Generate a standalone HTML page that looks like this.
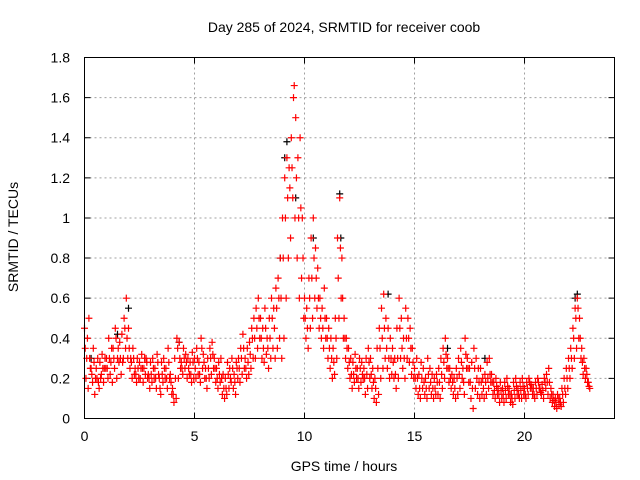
<!DOCTYPE html>
<html><head><meta charset="utf-8"><style>
html,body{margin:0;padding:0;background:#fff;}
svg{display:block;font-family:"Liberation Sans",sans-serif;}
</style></head><body>
<svg id="chart" width="640" height="480" xmlns="http://www.w3.org/2000/svg">
<rect width="640" height="480" fill="#fff"/>
<g id="grid"></g>
<g id="axes"></g>
<g id="marks"></g>
<rect x="84.5" y="57.5" width="530" height="361" fill="none" stroke="#000" stroke-width="1"/>
<text x="344" y="32" text-anchor="middle" font-size="14">Day 285 of 2024, SRMTID for receiver coob</text>
<text x="344" y="471" text-anchor="middle" font-size="14">GPS time / hours</text>
<text x="18" y="237" text-anchor="middle" font-size="14" transform="rotate(-90 18 237)">SRMTID / TECUs</text>
</svg>
<script>
const xTicks=[0,5,10,15,20];
const yTicks=[0,0.2,0.4,0.6,0.8,1,1.2,1.4,1.6,1.8];
const yTickLabels=["0","0.2","0.4","0.6","0.8","1","1.2","1.4","1.6","1.8"];
const seriesA=[.45,.3,.5,.25,.35,.2,.3,.28,.32,.25,
.3,.4,.28,.35,.45,.3,.38,.42,.5,.6,
.45,.3,.35,.25,.3,.28,.32,.25,.3,.22,
.28,.3,.25,.32,.2,.28,.3,.25,.35,.22,
.15,.3,.4,.38,.28,.35,.32,.3,.28,.33,
.3,.35,.28,.4,.32,.25,.3,.35,.38,.3,
.25,.28,.3,.22,.2,.28,.25,.3,.22,.28,
.3,.35,.42,.3,.35,.38,.45,.5,.55,.6,
.5,.45,.55,.4,.5,.6,.55,.65,.7,.8,
1.0,1.2,1.3,1.25,1.4,1.6,1.5,1.3,1.4,1.0,
.6,.55,.7,.9,1.0,.85,.75,.6,.55,.65,
.5,.45,.4,.35,.5,.9,1.1,.8,.5,.4,
.35,.3,.28,.32,.25,.3,.28,.25,.3,.35,
.3,.25,.2,.35,.45,.55,.62,.5,.45,.4,
.35,.3,.45,.6,.5,.4,.55,.5,.45,.35,
.25,.3,.22,.28,.25,.2,.3,.25,.22,.2,
.22,.25,.3,.35,.4,.3,.25,.22,.2,.25,
.3,.35,.25,.4,.3,.25,.28,.35,.3,.25,
.25,.2,.22,.28,.3,.22,.18,.2,.15,.18,
.15,.18,.2,.15,.12,.18,.2,.15,.18,.2,
.15,.18,.2,.17,.15,.18,.2,.15,.17,.2,
.22,.25,.15,.12,.1,.12,.1,.15,.2,.25,
.3,.35,.45,.55,.6,.5,.35,.3,.25,.18];
const seriesB=[.2,.15,.25,.18,.12,.2,.15,.22,.18,.25,
.2,.22,.18,.25,.2,.28,.22,.3,.35,.3,
.25,.2,.22,.18,.2,.25,.18,.22,.2,.15,
.18,.2,.15,.22,.12,.18,.2,.15,.2,.12,
.08,.1,.2,.25,.22,.25,.2,.22,.18,.2,
.2,.22,.18,.25,.2,.15,.2,.22,.25,.18,
.15,.18,.12,.1,.12,.15,.18,.15,.12,.2,
.18,.22,.25,.2,.22,.25,.3,.3,.35,.4,
.3,.28,.32,.25,.3,.35,.3,.35,.4,.3,
.4,.6,.8,.9,1.1,1.0,.8,.6,.7,.5,
.4,.35,.45,.5,.6,.55,.45,.4,.35,.4,
.3,.25,.2,.22,.3,.5,.6,.4,.3,.25,
.2,.15,.18,.2,.15,.18,.2,.12,.15,.2,
.15,.1,.08,.12,.2,.25,.3,.25,.2,.22,
.2,.15,.2,.3,.25,.2,.3,.28,.22,.2,
.15,.12,.1,.15,.12,.1,.15,.12,.1,.12,
.12,.1,.15,.2,.25,.18,.15,.12,.1,.12,
.15,.2,.12,.25,.18,.1,.05,.15,.12,.1,
.12,.1,.12,.15,.18,.12,.1,.12,.08,.1,
.08,.1,.12,.08,.07,.1,.12,.1,.1,.12,
.1,.12,.15,.12,.1,.12,.15,.12,.1,.15,
.12,.1,.08,.06,.05,.07,.06,.08,.12,.15,
.2,.25,.3,.35,.4,.3,.22,.2,.18,.15];
const seriesC=[.35,.4,.3,.22,.28,.25,.18,.2,.25,.3,
.25,.3,.35,.3,.4,.35,.3,.28,.45,.4,
.35,.28,.3,.22,.25,.2,.25,.3,.28,.2,
.22,.25,.2,.28,.15,.22,.25,.2,.28,.18,
.12,.2,.35,.3,.25,.3,.28,.25,.22,.28,
.25,.3,.22,.35,.28,.2,.25,.3,.32,.25,
.2,.22,.2,.15,.15,.22,.2,.25,.18,.25,
.25,.3,.35,.25,.28,.32,.4,.4,.45,.5,
.4,.35,.45,.35,.4,.5,.45,.55,.6,.6,
.8,1.0,1.1,1.15,1.25,1.66,1.2,1.0,1.05,.8,
.5,.45,.6,.7,.8,.7,.6,.5,.45,.5,
.4,.35,.3,.28,.4,.7,.85,.6,.4,.35,
.28,.22,.22,.25,.2,.25,.22,.2,.22,.28,
.22,.18,.15,.25,.35,.4,.45,.35,.3,.3,
.28,.22,.3,.45,.35,.3,.4,.4,.35,.28,
.2,.2,.15,.2,.18,.15,.22,.18,.15,.15,
.18,.18,.22,.28,.32,.25,.2,.18,.15,.2,
.22,.28,.18,.32,.25,.18,.15,.25,.2,.18,
.18,.15,.18,.2,.22,.18,.14,.16,.12,.14,
.12,.14,.16,.12,.1,.14,.16,.12,.14,.16,
.12,.15,.18,.15,.12,.15,.18,.13,.14,.18,
.18,.18,.12,.09,.08,.1,.08,.12,.15,.2,
.25,.3,.4,.5,.55,.4,.28,.25,.22,.16];
const blackTimes=[0.3,1.5,2.0,4.3,8.9,9.1,9.2,9.6,10.4,11.6,11.65,13.8,16.5,18.2,22.3,22.4];
const blackValues=[0.3,0.42,0.55,0.38,0.8,1.3,1.38,1.1,0.9,1.12,0.9,0.62,0.35,0.3,0.6,0.62];
const stepHours=0.1;
const X0=84.5,X1=614.5,Y0=418.5,Y1=57.5,XMAX=24.09,YMAX=1.8;
const xs=v=>X0+(v/XMAX)*(X1-X0);
const ys=v=>Y0-(v/YMAX)*(Y0-Y1);
const NS="http://www.w3.org/2000/svg";
const grid=document.getElementById('grid'),axes=document.getElementById('axes'),marks=document.getElementById('marks');
function mk(tag,parent,attrs){const e=document.createElementNS(NS,tag);for(const k in attrs)e.setAttribute(k,attrs[k]);parent.appendChild(e);return e;}
xTicks.forEach(t=>{const x=xs(t);
 if(t>0){const g=mk('line',grid,{x1:x,x2:x,y1:Y1,y2:Y0,stroke:'#a0a0a0','stroke-dasharray':'2,3'});
 
 }
 const tk=mk('path',axes,{d:`M${x},${Y0}v-6M${x},${Y1}v6`,stroke:'#000'});
 
 
 const l=mk('text',axes,{x:x,y:441,'text-anchor':'middle','font-size':14});l.textContent=t;
 
 });
yTicks.forEach((t,i)=>{const y=ys(t);
 if(i>0&&i<yTicks.length-1){const g=mk('line',grid,{x1:X0,x2:X1,y1:y,y2:y,stroke:'#a0a0a0','stroke-dasharray':'2,3'});
 
 }
 const tk=mk('path',axes,{d:`M${X0},${y}h6M${X1},${y}h-6`,stroke:'#000'});
 
 
 const l=mk('text',axes,{x:70,y:y+5,'text-anchor':'end','font-size':14});l.textContent=yTickLabels[i];
 
 });
function plus(t,v,color,name){const x=xs(t),y=ys(v);
 const p=mk('path',marks,{d:`M${x-3.5},${y}h7M${x},${y-3.5}v7`,stroke:color,'stroke-width':1.2});
 
 }
blackTimes.forEach((t,i)=>plus(t,blackValues[i],'#000','black-point'));
seriesA.forEach((v,i)=>plus(i*stepHours,v,'#ff0000','red-point'));
seriesC.forEach((v,i)=>plus(i*stepHours+0.033,v,'#ff0000','red-point'));
seriesB.forEach((v,i)=>plus(i*stepHours+0.066,v,'#ff0000','red-point'));
</script>
</body></html>
